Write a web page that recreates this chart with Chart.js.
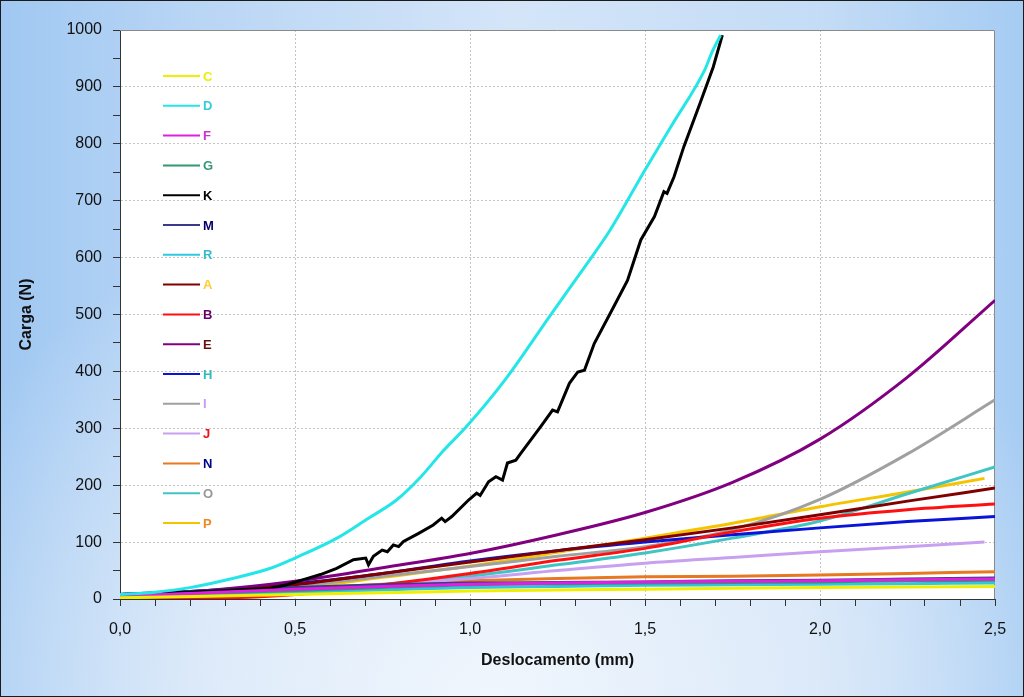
<!DOCTYPE html>
<html>
<head>
<meta charset="utf-8">
<script src="https://cdn.jsdelivr.net/npm/chart.js@4/dist/chart.umd.min.js"></script>
<style>
  html, body { margin: 0; padding: 0; }
  #wrap {
    width: 1024px; height: 697px;
    box-shadow: inset 0 0 0 1px #1b1b1b;
    background:
      radial-gradient(ellipse 60% 75% at 48% 100%, rgba(240,246,253,1) 0%, rgba(226,237,250,0.9) 45%, rgba(200,223,247,0) 100%),
      linear-gradient(to right, #A0C8F2 0%, #BAD6F5 20%, #D4E5F8 50%, #C4DCF6 80%, #A6CCF3 100%);
  }
  canvas { display: block; }
</style>
</head>
<body>
<div id="wrap"><canvas id="chart0" width="1024" height="697"></canvas></div>
<script>
let ctx = document.getElementById("chart0").getContext("2d");

// shared x grid for the smooth curves (mm)
const xGrid = [0, 0.25, 0.5, 0.75, 1.0, 1.25, 1.5, 1.75, 2.0, 2.25, 2.5];
// J and P stop a bit before 2.5
const xShort = [0, 0.25, 0.5, 0.75, 1.0, 1.25, 1.5, 1.75, 2.0, 2.25, 2.47];

const yC = [2, 5, 8, 11, 14, 16, 17, 19, 20, 21, 22];
const yF = [5, 11, 17, 22, 26, 28, 30, 31, 32, 34, 35];
const yG = [5, 10, 15, 20, 25, 27, 28, 29, 30, 32, 33];
const yM = [8, 14, 20, 25, 28, 29, 30, 32, 33, 35, 37];
const yR = [3, 8, 12, 16, 20, 22, 24, 25, 26, 27, 28];
const yA = [5, 12, 25, 45, 65, 85, 104, 125, 148, 172, 195];
const yB = [0, 1, 8, 25, 45, 68, 89, 118, 142, 157, 167];
const yE = [8, 15, 31, 55, 80, 113, 152, 205, 281, 390, 525];
const yH = [8, 15, 27, 45, 67, 85, 100, 113, 125, 136, 145];
const yI = [5, 10, 22, 40, 57, 75, 92, 122, 175, 255, 350];
const yJ = [5, 8, 15, 25, 36, 50, 63, 73, 83, 92, 100];
const yN = [3, 10, 18, 26, 32, 36, 39, 40, 42, 45, 48];
const yO = [2, 4, 10, 25, 40, 60, 81, 107, 137, 185, 232];
const yP = [0, 4, 18, 38, 58, 82, 107, 133, 162, 188, 212];

const xD = [0, 0.1, 0.2, 0.3, 0.43, 0.5, 0.62, 0.71, 0.79, 0.86, 0.92, 0.99, 1.1, 1.23, 1.335, 1.4, 1.5, 1.58, 1.67, 1.69, 1.716];
const yD = [8, 12, 20, 33, 54, 72, 107, 142, 174, 215, 258, 303, 385, 499, 590, 648, 754, 836, 929, 959, 991];

const xK = [0, 0.1, 0.2, 0.3, 0.43, 0.476, 0.524, 0.573, 0.619, 0.667, 0.702, 0.71, 0.724, 0.749, 0.764, 0.781, 0.796, 0.81, 0.852, 0.895,
  0.919, 0.929, 0.948, 0.996, 1.019, 1.029, 1.053, 1.074, 1.093, 1.107, 1.131, 1.145, 1.202, 1.236, 1.25, 1.284, 1.308, 1.327, 1.355,
  1.411, 1.45, 1.488, 1.527, 1.554, 1.563, 1.583, 1.611, 1.657, 1.695, 1.721];
const yK = [8, 10, 12, 15, 19, 25, 34, 43, 54, 69, 72, 60, 75, 86, 83, 95, 92, 101, 115, 130,
  142, 136, 145, 174, 186, 182, 206, 215, 209, 239, 244, 256, 303, 332, 329, 379, 399, 402, 449,
  514, 560, 631, 672, 716, 713, 742, 795, 871, 935, 991];

const names = ["C", "D", "F", "G", "K", "M", "R", "A", "B", "E", "H", "I", "J", "N", "O", "P"];
const lineColors = ["#F2EE00", "#25E6E6", "#E020E0", "#2E9A6E", "#000000", "#3A3A8C", "#2EC8E0", "#800000",
  "#FF1010", "#800080", "#0A14D8", "#A0A0A0", "#C8A0F0", "#E87820", "#40C4C4", "#F5C400"];
// the legend text colours don't match the lines in the original
const labelColors = ["#EEEE00", "#33CCDD", "#CC33CC", "#339977", "#000000", "#000066", "#33BBCC", "#FFCC33",
  "#660066", "#661111", "#33BBBB", "#CC99EE", "#EE1111", "#000088", "#999999", "#EE8822"];

function pts(xs, ys) {
  return xs.map((x, i) => ({ x: x, y: ys[i] }));
}

const seriesPts = [
  pts(xGrid, yC), pts(xD, yD), pts(xGrid, yF), pts(xGrid, yG), pts(xK, yK), pts(xGrid, yM), pts(xGrid, yR),
  pts(xGrid, yA), pts(xGrid, yB), pts(xGrid, yE), pts(xGrid, yH), pts(xGrid, yI), pts(xShort, yJ),
  pts(xGrid, yN), pts(xGrid, yO), pts(xShort, yP)
];

let datasets = names.map((n, i) => ({
  label: n,
  data: seriesPts[i],
  borderColor: lineColors[i],
  backgroundColor: lineColors[i],
  borderWidth: 3,
  pointRadius: 0,
  fill: false,
  // K is a noisy measurement, keep it jagged
  tension: n === "K" ? 0 : 0.4,
  cubicInterpolationMode: n === "K" ? "default" : "monotone"
}));

const plotFrame = {
  id: "plotFrame",
  beforeDraw(chart) {
    const a = chart.chartArea;
    const c = chart.ctx;
    c.save();
    c.fillStyle = "#ffffff";
    c.fillRect(a.left, a.top, a.right - a.left, a.bottom - a.top);
    c.restore();
  },
  beforeDatasetsDraw(chart) {
    const a = chart.chartArea;
    const c = chart.ctx;
    c.save();
    c.strokeStyle = "#8a8a8a";
    c.lineWidth = 1;
    c.beginPath();
    c.moveTo(a.left, a.top + 0.5);
    c.lineTo(a.right - 0.5, a.top + 0.5);
    c.lineTo(a.right - 0.5, a.bottom);
    c.stroke();
    c.restore();
  }
};

const legendBox = {
  id: "legendBox",
  afterDatasetsDraw(chart) {
    const a = chart.chartArea;
    const c = chart.ctx;
    c.save();
    c.font = "bold 13px 'Liberation Sans', Arial, sans-serif";
    c.textBaseline = "middle";
    chart.data.datasets.forEach((ds, i) => {
      const y = a.top + 46 + i * 29.8;
      c.strokeStyle = ds.borderColor;
      c.lineWidth = 2;
      c.beginPath();
      c.moveTo(a.left + 43, y);
      c.lineTo(a.left + 80, y);
      c.stroke();
      c.fillStyle = labelColors[i];
      c.fillText(ds.label, a.left + 83, y + 1);
    });
    c.restore();
  }
};

const tickFont = { family: "'Liberation Sans', Arial, sans-serif", size: 16 };
const titleFont = { family: "'Liberation Sans', Arial, sans-serif", size: 16, weight: "bold" };

function isStep(v, step) {
  const r = v / step;
  return Math.abs(r - Math.round(r)) < 1e-6;
}

let chart = new Chart(ctx, {
  type: "line",
  data: { datasets: datasets },
  options: {
    responsive: false,
    animation: false,
    devicePixelRatio: 1,
    layout: { padding: { top: 30, right: 29, left: 0, bottom: 0 } },
    plugins: { legend: { display: false }, tooltip: { enabled: false } },
    scales: {
      x: {
        type: "linear",
        min: 0,
        max: 2.5,
        afterFit: (s) => { s.height = 98; },
        ticks: {
          stepSize: 0.1,
          autoSkip: false,
          maxRotation: 0,
          padding: 14,
          color: "#111",
          font: tickFont,
          callback: (v) => isStep(v, 0.5) ? v.toFixed(1).replace(".", ",") : ""
        },
        grid: {
          color: (c) => (c.tick && isStep(c.tick.value, 0.5) && c.tick.value > 0.01 && c.tick.value < 2.49) ? "#c4c4c4" : "rgba(0,0,0,0)",
          tickColor: "#333",
          tickLength: 7,
          lineWidth: 1
        },
        border: { display: true, color: "#333", width: 1, dash: [2, 2] },
        title: { display: true, text: "Deslocamento (mm)", color: "#111", font: titleFont, padding: { top: 0, bottom: 27 } }
      },
      y: {
        min: 0,
        max: 1000,
        afterFit: (s) => { s.width = 120; },
        ticks: {
          stepSize: 50,
          autoSkip: false,
          padding: 11,
          color: "#111",
          font: tickFont,
          callback: (v) => (v % 100 === 0) ? v : ""
        },
        grid: {
          color: (c) => (c.tick && c.tick.value % 100 === 0 && c.tick.value > 0 && c.tick.value < 1000) ? "#c4c4c4" : "rgba(0,0,0,0)",
          tickColor: "#333",
          tickLength: 7,
          lineWidth: 1
        },
        border: { display: true, color: "#333", width: 1, dash: [2, 2] },
        title: { display: true, text: "Carga (N)", color: "#111", font: titleFont, padding: { top: 17, bottom: 0 } }
      }
    }
  },
  plugins: [plotFrame, legendBox]
});
</script>
</body>
</html>
